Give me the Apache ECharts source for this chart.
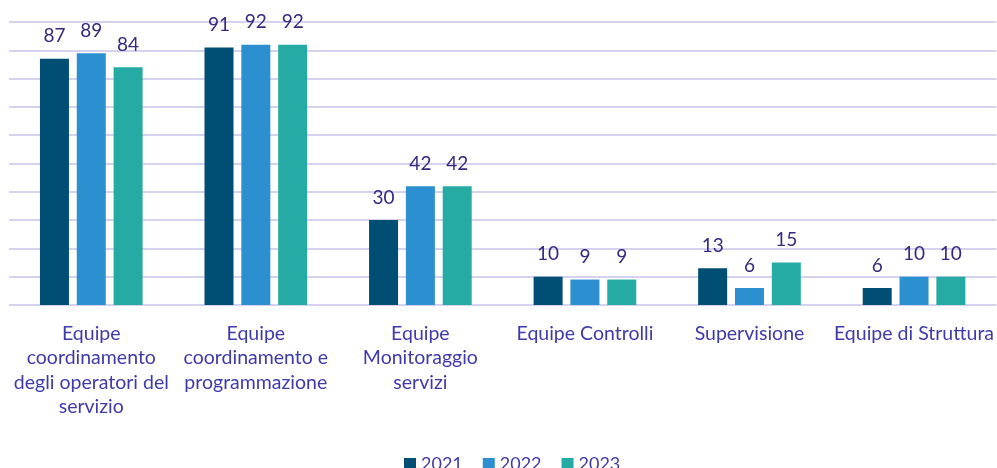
<!DOCTYPE html>
<html>
<head>
<meta charset="utf-8">
<script src="https://cdn.jsdelivr.net/npm/echarts@6/dist/echarts.min.js"></script>
<style>
  html, body { margin: 0; padding: 0; background: #fff; }
  #chart { width: 997px; height: 468px; }
</style>
</head>
<body>
<div id="chart"></div>
<script>
const categories = [
  "Equipe\ncoordinamento\ndegli operatori del\nservizio",
  "Equipe\ncoordinamento e\nprogrammazione",
  "Equipe\nMonitoraggio\nservizi",
  "Equipe Controlli",
  "Supervisione",
  "Equipe di Struttura"
];
const years = ["2021", "2022", "2023"];
const data2021 = [87, 91, 30, 10, 13, 6];
const data2022 = [89, 92, 42, 9, 6, 10];
const data2023 = [84, 92, 42, 9, 15, 10];

const colors = ["#004e73", "#2b8fd0", "#25aba3"];
const fontFam = "Lato, 'Open Sans', sans-serif";

let chart = echarts.init(document.getElementById("chart"));

function makeSeries(name, values, color) {
  return {
    name: name,
    type: "bar",
    data: values,
    barWidth: 29,
    barGap: "27%",
    itemStyle: { color: color },
    label: {
      show: true,
      position: "top",
      distance: 13,
      color: "#35297e",
      fontSize: 19,
      fontFamily: fontFam
    }
  };
}

let option = {
  animation: false,
  grid: { left: 9, right: 0, top: 22, bottom: 163, containLabel: false },
  legend: {
    data: years,
    top: 450,
    left: 399,
    itemWidth: 12,
    itemHeight: 12,
    itemGap: 20,
    icon: "rect",
    textStyle: { color: "#3f3aaa", fontSize: 18, fontFamily: fontFam }
  },
  xAxis: {
    type: "category",
    data: categories,
    axisLine: { show: false },
    axisTick: { show: false },
    axisLabel: {
      interval: 0,
      margin: 16,
      color: "#3f3aaa",
      fontSize: 19.5,
      lineHeight: 24.5,
      fontFamily: fontFam
    }
  },
  yAxis: {
    type: "value",
    min: 0,
    max: 100,
    interval: 10,
    axisLabel: { show: false },
    axisLine: { show: false },
    axisTick: { show: false },
    splitLine: { lineStyle: { color: "#d6d2ee", width: 2 } }
  },
  series: [
    makeSeries(years[0], data2021, colors[0]),
    makeSeries(years[1], data2022, colors[1]),
    makeSeries(years[2], data2023, colors[2])
  ]
};
chart.setOption(option);
</script>
</body>
</html>
